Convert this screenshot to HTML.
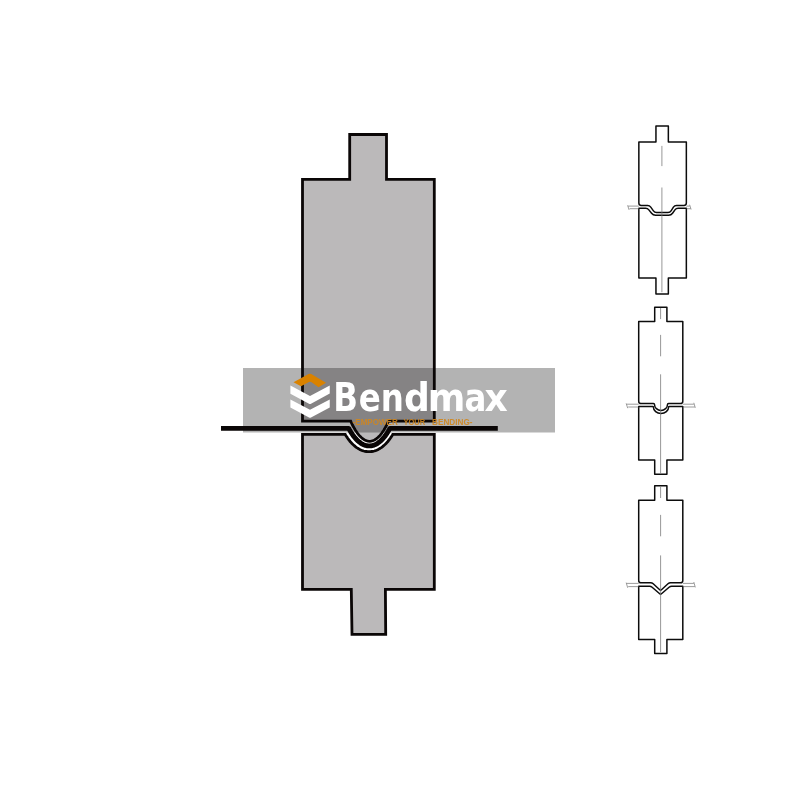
<!DOCTYPE html>
<html lang="en">
<head>
<meta charset="utf-8">
<title>Bendmax tooling</title>
<style>
html,body{margin:0;padding:0;background:#fff;}
body{width:800px;height:800px;overflow:hidden;position:relative;font-family:"Liberation Sans",sans-serif;}
svg{position:absolute;left:0;top:0;display:block;will-change:transform;}
.brand{font-family:"DejaVu Sans Condensed","DejaVu Sans","Liberation Sans",sans-serif;font-weight:bold;fill:#fff;}
.brand .w{font-family:"DejaVu Sans","Liberation Sans",sans-serif;}
.tag{font-family:"Liberation Sans",sans-serif;font-weight:bold;fill:#d2861c;fill-opacity:0.9;}
.thin{fill:#fff;stroke:#0c0c0c;stroke-width:1.5;stroke-linejoin:round;}
.cl{fill:none;stroke:#757575;stroke-width:0.75;}
.sh{fill:none;stroke:#666;stroke-width:0.65;}
.ol{fill:none;stroke:#0a0606;stroke-width:2.8;stroke-linejoin:miter;}
</style>
</head>
<body>
<svg width="800" height="800" viewBox="0 0 800 800">
  <defs>
    <clipPath id="ov"><rect x="243" y="368" width="312" height="64.5"/></clipPath>
    <path id="punch" d="M349.7,134.5 H386.5 V179.3 H434.3 V421.2 L388.5,421.2 L388.2,421.9 L387.9,422.5 L387.6,423.2 L387.3,423.9 L386.9,424.6 L386.6,425.3 L386.2,426.0 L385.8,426.7 L385.4,427.4 L385.0,428.1 L384.6,428.8 L384.2,429.5 L383.8,430.2 L383.3,430.9 L382.9,431.6 L382.4,432.3 L382.0,432.9 L381.5,433.5 L381.0,434.2 L380.5,434.8 L380.0,435.4 L379.5,435.9 L378.9,436.5 L378.4,437.0 L377.9,437.5 L377.3,438.0 L376.8,438.5 L376.2,438.9 L375.6,439.3 L375.1,439.6 L374.5,440.0 L373.9,440.3 L373.3,440.5 L372.7,440.8 L372.1,441.0 L371.5,441.1 L370.9,441.2 L370.2,441.3 L369.6,441.3 L369.0,441.3 L368.3,441.2 L367.7,441.1 L367.1,441.0 L366.5,440.8 L365.9,440.5 L365.3,440.3 L364.7,440.0 L364.1,439.6 L363.6,439.3 L363.0,438.9 L362.4,438.5 L361.9,438.0 L361.3,437.5 L360.8,437.0 L360.3,436.5 L359.7,435.9 L359.2,435.4 L358.7,434.8 L358.2,434.2 L357.7,433.5 L357.2,432.9 L356.8,432.3 L356.3,431.6 L355.9,430.9 L355.4,430.2 L355.0,429.5 L354.6,428.8 L354.2,428.1 L353.8,427.4 L353.4,426.7 L353.0,426.0 L352.6,425.3 L352.3,424.6 L351.9,423.9 L351.6,423.2 L351.3,422.5 L351.0,421.9 L350.7,421.2 H302.5 V179.3 H349.7 Z"/>
    <path id="die" d="M302.5,434.4 L345.2,434.4 L345.5,435.0 L346.0,435.8 L346.6,436.6 L347.1,437.4 L347.7,438.3 L348.3,439.1 L348.9,439.9 L349.5,440.7 L350.1,441.5 L350.8,442.2 L351.5,443.0 L352.2,443.8 L353.0,444.5 L353.8,445.2 L354.6,445.9 L355.4,446.6 L356.3,447.3 L357.2,447.9 L358.2,448.5 L359.2,449.1 L360.2,449.7 L361.4,450.2 L362.5,450.6 L363.7,451.0 L365.0,451.3 L366.3,451.5 L367.6,451.7 L368.6,451.7 L370.4,451.7 L371.7,451.5 L373.0,451.3 L374.3,451.0 L375.5,450.6 L376.6,450.2 L377.8,449.7 L378.8,449.1 L379.8,448.5 L380.8,447.9 L381.7,447.3 L382.6,446.6 L383.4,445.9 L384.2,445.2 L385.0,444.5 L385.8,443.8 L386.5,443.0 L387.2,442.2 L387.9,441.5 L388.5,440.7 L389.1,439.9 L389.7,439.1 L390.3,438.3 L390.9,437.4 L391.4,436.6 L392.0,435.8 L392.5,435.0 L392.8,434.4 H434.3 V589.4 H385.4 L385.7,634.3 H352.0 L351.3,589.4 H302.5 Z"/>
  </defs>
  <!-- tool fills -->
  <use href="#punch" fill="#bbb9ba"/>
  <use href="#die" fill="#bbb9ba"/>
  <!-- watermark plate -->
  <rect x="243" y="368" width="312" height="64.5" fill="#b3b3b3"/>
  <g clip-path="url(#ov)">
    <use href="#punch" fill="#858384"/>
    <use href="#die" fill="#858384"/>
  </g>
  <!-- outlines -->
  <use href="#punch" class="ol"/>
  <use href="#die" class="ol"/>
  <!-- sheet -->
  <path d="M221,428.4 L348.8,428.4 L349.0,428.9 L349.4,429.7 L349.9,430.4 L350.3,431.2 L350.8,431.9 L351.2,432.7 L351.7,433.4 L352.2,434.2 L352.7,434.9 L353.2,435.6 L353.8,436.3 L354.3,437.0 L354.9,437.7 L355.5,438.4 L356.1,439.1 L356.7,439.7 L357.3,440.3 L357.9,440.9 L358.6,441.5 L359.3,442.1 L360.0,442.6 L360.7,443.1 L361.5,443.6 L362.2,444.0 L363.0,444.4 L363.9,444.8 L364.7,445.1 L365.6,445.4 L366.5,445.6 L367.4,445.8 L368.3,445.9 L369.1,445.9 L370.3,445.9 L371.2,445.8 L372.1,445.6 L373.0,445.4 L373.9,445.1 L374.7,444.8 L375.6,444.4 L376.4,444.0 L377.1,443.6 L377.9,443.1 L378.6,442.6 L379.3,442.1 L380.0,441.5 L380.7,440.9 L381.3,440.3 L381.9,439.7 L382.5,439.1 L383.1,438.4 L383.7,437.7 L384.3,437.0 L384.8,436.3 L385.4,435.6 L385.9,434.9 L386.4,434.2 L386.9,433.4 L387.4,432.7 L387.8,431.9 L388.3,431.2 L388.7,430.4 L389.2,429.7 L389.6,428.9 L389.8,428.4 H497.8" fill="none" stroke="#0a0606" stroke-width="4.9" stroke-linejoin="round"/>
  <!-- logo -->
  <g>
    <path d="M293.5,382.2 L308.6,374 Q309.9,373.3 311.2,374 L326,382.8 L318.5,387.2 L311.6,382.2 Q310.3,381.3 309,382.1 L301,386.3 Z" fill="#d98200"/>
    <path d="M290.4,385.6 L310,396 L329.75,385.6 V393.6 L311,403.7 Q310,404.2 309,403.7 L290.4,393.8 Z" fill="#fff"/>
    <path d="M290.4,399.4 L310,409.8 L329.75,399.4 V407.5 L311,417.6 Q310,418.1 309,417.6 L290.4,407.6 Z" fill="#fff"/>
  </g>
  <text class="brand" transform="scale(0.94,1)" y="410.7" font-size="38.4"><tspan x="354.49">B</tspan><tspan x="381.73">e</tspan><tspan x="405.15">n</tspan><tspan class="w" x="429.88">d</tspan><tspan class="w" x="455.18">m</tspan><tspan x="494.06">a</tspan><tspan class="w" x="515.33">x</tspan></text>
  <text class="tag" y="425.3" font-size="9.4"><tspan x="352.6" textLength="45.2" lengthAdjust="spacingAndGlyphs">-EMPOWER</tspan> <tspan x="403.4" textLength="21.7" lengthAdjust="spacingAndGlyphs">YOUR</tspan> <tspan x="432" textLength="40.6" lengthAdjust="spacingAndGlyphs">BENDING-</tspan></text>
  <!-- small profile drawings -->
  <g>
    <path class="thin" d="M655.95,126.05 L668.35,126.05 L668.35,142.00 L686.35,142.00 L686.35,203.10 Q686.35,205.50 683.95,205.50 L676.50,205.50 Q674.50,205.50 673.42,207.18 L671.08,210.82 Q670.00,212.50 668.00,212.50 L656.60,212.50 Q654.60,212.50 653.44,210.87 L650.76,207.13 Q649.60,205.50 647.60,205.50 L641.25,205.50 Q638.85,205.50 638.85,203.10 L638.85,142.00 L655.95,142.00 Z"/>
    <path class="thin" d="M638.85,208.30 L645.60,208.30 Q647.60,208.30 648.84,209.87 L651.56,213.33 Q653.10,215.30 655.60,215.30 L668.60,215.30 Q671.10,215.30 672.55,213.27 L674.94,209.93 Q676.10,208.30 678.10,208.30 L686.35,208.30 L686.35,278.00 L668.35,278.00 L668.35,294.00 L655.95,294.00 L655.95,278.00 L638.85,278.00 Z"/>
    <path class="sh" d="M628.1,206.1 H638.85 M629.6,208.7 H638.85 M686.35,206.1 H689.6 M686.35,208.7 H690.6 M627.6,205.3 L629.1,209.9 M689.6,204.7 L691.1,209.5"/>
    <path class="cl" d="M661.9,145.9 V166.1 M661.9,187.5 V292.2"/>
  </g>
  <g>
    <path class="thin" d="M654.70,307.25 L666.90,307.25 L666.90,321.60 L682.80,321.60 L682.80,401.20 Q682.80,403.60 680.40,403.60 L668.60,403.6 Q667.50,403.6 667.50,404.40 A6.5,6.0 0 0 1 654.50,404.40 Q654.50,403.6 653.40,403.6 L641.10,403.6 Q638.7,403.6 638.7,401.20 L638.7,321.6 L654.7,321.6 Z"/>
    <path class="thin" d="M638.7,406.6 L652.60,406.6 Q653.40,406.6 653.40,407.20 A7.6,6.2 0 0 0 668.60,407.20 Q668.60,406.6 669.40,406.6 L682.8,406.6 V460 H666.9 V474.3 H654.7 V460 H638.7 Z"/>
    <path class="sh" d="M626.7,404.2 H638.7 M628.2,407.0 H638.7 M682.8,404.2 H693.8 M682.8,407.0 H694.8 M626.2,403.4 L627.7,408.2 M693.8,402.8 L695.3,407.8"/>
    <path class="cl" d="M660.6,307.9 V319.1 M660.6,334.9 V356.3 M660.6,374.3 V473.4"/>
  </g>
  <g>
    <path class="thin" d="M654.70,485.70 L666.90,485.70 L666.90,500.20 L682.80,500.20 L682.80,580.40 Q682.80,582.80 680.40,582.80 L670.60,582.80 Q669.10,582.80 667.99,583.81 L661.48,589.79 Q660.60,590.60 659.72,589.79 L653.21,583.81 Q652.10,582.80 650.60,582.80 L641.10,582.80 Q638.70,582.80 638.70,580.40 L638.70,500.20 L654.70,500.20 Z"/>
    <path class="thin" d="M638.70,586.20 L649.50,586.20 Q651.00,586.20 652.13,587.19 L659.70,593.81 Q660.60,594.60 661.50,593.81 L669.07,587.19 Q670.20,586.20 671.70,586.20 L682.80,586.20 L682.80,639.50 L666.90,639.50 L666.90,653.60 L654.70,653.60 L654.70,639.50 L638.70,639.50 Z"/>
    <path class="sh" d="M626.7,583.4 H638.7 M628.2,586.6 H638.7 M682.8,583.4 H693.8 M682.8,586.6 H694.8 M626.2,582.6 L627.7,587.8 M693.8,582.0 L695.3,587.4"/>
    <path class="cl" d="M660.6,486.7 V498 M660.6,514.9 V536.3 M660.6,555.4 V652.2"/>
  </g>
</svg>
</body>
</html>
